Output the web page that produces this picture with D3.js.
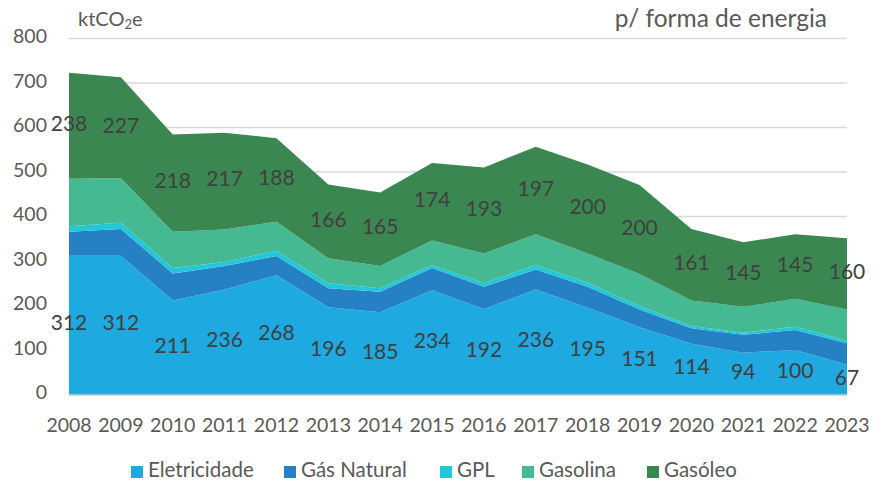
<!DOCTYPE html>
<html>
<head>
<meta charset="utf-8">
<script src="https://cdn.jsdelivr.net/npm/d3@7"></script>
<style>
  body { margin: 0; background: #fff; }
  text { font-family: Lato, "Liberation Sans", sans-serif; }
</style>
</head>
<body>
<div id="chart"></div>
<script>
const WIDTH = 874;
const HEIGHT = 482;

// dados (ktCO2e)
const anos = ["2008","2009","2010","2011","2012","2013","2014","2015","2016","2017","2018","2019","2020","2021","2022","2023"];
const eletricidade = [312,312,211,236,268,196,185,234,192,236,195,151,114,94,100,67];
const gasNatural   = [54,60,61,53,43,43,46,50,50,45,47,40,35,40,45,48];
const gpl          = [12,14,12,9,12,11,8,7,8,10,9,8,5,5,7,6];
const gasolina     = [107,100,82,73,65,56,50,55,67,69,66,72,57,58,63,70];
const gasoleo      = [238,227,218,217,188,166,165,174,193,197,200,200,161,145,145,160];
const series = ["Eletricidade", "Gás Natural", "GPL", "Gasolina", "Gasóleo"];
const cores = ["#1EA9E1", "#2580C4", "#22C8D9", "#44B992", "#3B8752"];
const yTicks = [0,100,200,300,400,500,600,700,800];

const tabela = anos.map((a, i) => ({
  ano: a,
  "Eletricidade": eletricidade[i],
  "Gás Natural": gasNatural[i],
  "GPL": gpl[i],
  "Gasolina": gasolina[i],
  "Gasóleo": gasoleo[i]
}));

const svg = d3.select("#chart").append("svg")
  .attr("width", WIDTH)
  .attr("height", HEIGHT);

const x = d3.scalePoint().domain(anos).range([69, 847]);
const y = d3.scaleLinear().domain([0, 800]).range([394.5, 38.5]);

// grelha
svg.append("g").selectAll("line")
  .data(yTicks)
  .join("line")
  .attr("x1", 69).attr("x2", 847)
  .attr("y1", d => y(d)).attr("y2", d => y(d))
  .attr("stroke", "#d9d9d9").attr("stroke-width", 1.5);

// eixo y
svg.append("g").selectAll("text")
  .data(yTicks)
  .join("text")
  .attr("x", 47).attr("y", d => y(d))
  .attr("text-anchor", "end")
  .attr("dominant-baseline", "middle")
  .attr("font-size", 19.5)
  .attr("fill", "#595959")
  .text(d => d);

const stack = d3.stack().keys(series);
const camadas = stack(tabela);

const area = d3.area()
  .x(d => x(d.data.ano))
  .y0(d => y(d[0]))
  .y1(d => y(d[1]));

svg.append("g").selectAll("path")
  .data(camadas)
  .join("path")
  .attr("fill", (d, i) => cores[i])
  .attr("d", area);

// linha base
svg.append("line")
  .attr("x1", 69).attr("x2", 847)
  .attr("y1", y(0) + 1).attr("y2", y(0) + 1)
  .attr("stroke", "#d9d9d9").attr("stroke-width", 1.5);

// eixo x
svg.append("g").selectAll("text")
  .data(anos)
  .join("text")
  .attr("x", d => x(d)).attr("y", 427.5)
  .attr("text-anchor", "middle")
  .attr("dominant-baseline", "middle")
  .attr("font-size", 19.5)
  .attr("fill", "#595959")
  .text(d => d);

// rotulos (eletricidade e gasoleo)
[0, 4].forEach(k => {
  svg.append("g").selectAll("text")
    .data(camadas[k])
    .join("text")
    .attr("x", d => x(d.data.ano))
    .attr("y", d => y((d[0] + d[1]) / 2))
    .attr("text-anchor", "middle")
    .attr("dominant-baseline", "middle")
    .attr("font-size", 21)
    .attr("fill", "#404040")
    .text(d => d[1] - d[0]);
});

// unidade
const un = svg.append("text")
  .attr("x", 78).attr("y", 21)
  .attr("dominant-baseline", "middle")
  .attr("font-size", 20)
  .attr("fill", "#595959");
un.append("tspan").text("ktCO");
un.append("tspan").attr("font-size", 13).attr("dy", 5).text("2");
un.append("tspan").attr("dy", -5).text("e");

// titulo
svg.append("text")
  .attr("x", 827).attr("y", 21)
  .attr("text-anchor", "end")
  .attr("dominant-baseline", "middle")
  .attr("font-size", 24.5)
  .attr("fill", "#595959")
  .text("p/ forma de energia");

// legenda
const legX = [131, 284, 440, 522, 647];
const leg = svg.append("g").selectAll("g")
  .data(series)
  .join("g")
  .attr("transform", (d, i) => `translate(${legX[i]}, 472)`);
leg.append("rect")
  .attr("x", 0).attr("y", -6)
  .attr("width", 12).attr("height", 12)
  .attr("fill", (d, i) => cores[i]);
leg.append("text")
  .attr("x", 17).attr("y", 0)
  .attr("dominant-baseline", "middle")
  .attr("font-size", 20.5)
  .attr("fill", "#595959")
  .text(d => d);
</script>
</body>
</html>
